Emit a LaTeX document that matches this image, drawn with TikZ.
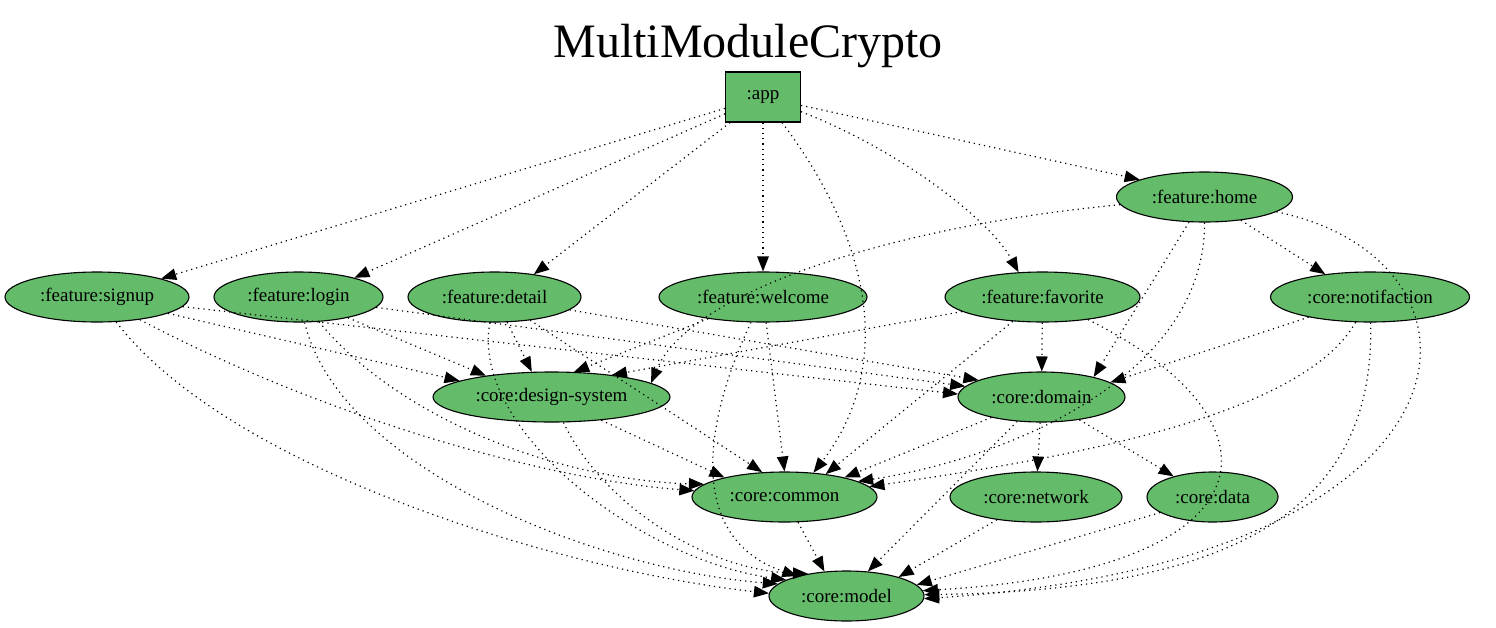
\documentclass[tikz,border=0pt]{standalone}
\usepackage{fontspec}
\setmainfont{Liberation Serif}
\usetikzlibrary{shapes.geometric,arrows.meta}
\definecolor{nodegreen}{RGB}{100,187,106}
\begin{document}
\begin{tikzpicture}[x=1pt,y=-1pt,
  mod/.style={ellipse, draw=black, line width=1.1pt, fill=nodegreen, inner sep=0pt,
    minimum height=50pt, font=\fontsize{19}{22}\selectfont},
  appbox/.style={rectangle, draw=black, line width=1.1pt, fill=nodegreen, inner sep=0pt,
    minimum width=75pt, minimum height=50pt, font=\fontsize{19}{22}\selectfont},
  dep/.style={draw=black, line width=1.2pt, dash pattern=on 1.2pt off 4pt,
    -{Triangle[length=15pt,width=11.5pt]}}]
\useasboundingbox (0,0) rectangle (1496,627);

\node[anchor=base, font=\fontsize{48}{56}\selectfont] (title) at (748,57) {MultiModuleCrypto};

\node[appbox] (app) at (763,97) {:app};
\node[mod, minimum width=176pt] (home) at (1204.5,197) {:feature:home};
\node[mod, minimum width=184pt] (signup) at (97,297) {:feature:signup};
\node[mod, minimum width=169pt] (login) at (298.5,297) {:feature:login};
\node[mod, minimum width=173pt] (detail) at (494.5,297) {:feature:detail};
\node[mod, minimum width=208pt] (welcome) at (763,297) {:feature:welcome};
\node[mod, minimum width=195pt] (favorite) at (1042.5,297) {:feature:favorite};
\node[mod, minimum width=199pt] (notif) at (1370,297) {:core:notifaction};
\node[mod, minimum width=237pt] (ds) at (551.5,397) {:core:design-system};
\node[mod, minimum width=167pt] (domain) at (1041.5,397) {:core:domain};
\node[mod, minimum width=185pt] (common) at (784.5,497) {:core:common};
\node[mod, minimum width=172pt] (network) at (1036,497) {:core:network};
\node[mod, minimum width=131pt] (data) at (1212.5,497) {:core:data};
\node[mod, minimum width=155pt] (model) at (846.5,596) {:core:model};

% app
\draw[dep] (app) -- (signup.16);
\draw[dep] (app) -- (login.19);
\draw[dep] (app) -- (detail.30);
\draw[dep] (app) -- (welcome);
\draw[dep] (app) .. controls (900,150) and (990,220) .. (favorite.134);
\draw[dep] (app) -- (home.165);
\draw[dep] (app) .. controls (885,260) and (885,380) .. (common.40);

% home
\draw[dep] (home) .. controls (900,225) and (690,290) .. (ds.8.8);
\draw[dep] (home) -- (domain.21.5);
\draw[dep] (home) .. controls (1205,380) and (1000,460) .. (common.12);
\draw[dep] (home) -- (notif.153.7);
\draw[dep] (home) .. controls (1510,260) and (1500,560) .. (model.-2);

% signup
\draw[dep] (signup) -- (ds.170.6);
\draw[dep] (signup) -- (domain.178);
\draw[dep] (signup) .. controls (330,420) and (550,480) .. (common.176);
\draw[dep] (signup) .. controls (230,470) and (560,570) .. (model.178);

% login
\draw[dep] (login) -- (ds.162);
\draw[dep] (login) -- (domain.172);
\draw[dep] (login) .. controls (400,420) and (560,480) .. (common.171);
\draw[dep] (login) .. controls (340,470) and (600,570) .. (model.170);

% detail
\draw[dep] (detail) -- (ds.128.3);
\draw[dep] (detail) -- (domain.165);
\draw[dep] (detail) -- (common.132);
\draw[dep] (detail) .. controls (470,430) and (640,560) .. (model.165);

% welcome
\draw[dep] (welcome) -- (ds.48.8);
\draw[dep] (welcome) -- (common.90);
\draw[dep] (welcome) .. controls (700,430) and (690,540) .. (model.158);

% favorite
\draw[dep] (favorite) -- (ds.20.4);
\draw[dep] (favorite) -- (domain);
\draw[dep] (favorite) -- (common.29.5);
\draw[dep] (favorite) .. controls (1290,420) and (1280,570) .. (model.4);

% notifaction
\draw[dep] (notif) -- (domain.12.3);
\draw[dep] (notif) .. controls (1300,420) and (1050,460) .. (common.7);
\draw[dep] (notif) .. controls (1375,500) and (1250,590) .. (model.1);

% core
\draw[dep] (ds) -- (common.162);
\draw[dep] (ds) .. controls (600,500) and (700,570) .. (model.150);
\draw[dep] (domain) -- (common.18);
\draw[dep] (domain) -- (network);
\draw[dep] (domain) -- (data.152);
\draw[dep] (domain) -- (model.49);
\draw[dep] (common) -- (model.132.5);
\draw[dep] (network) -- (model.20);
\draw[dep] (data) -- (model.9.4);
\end{tikzpicture}
\end{document}
